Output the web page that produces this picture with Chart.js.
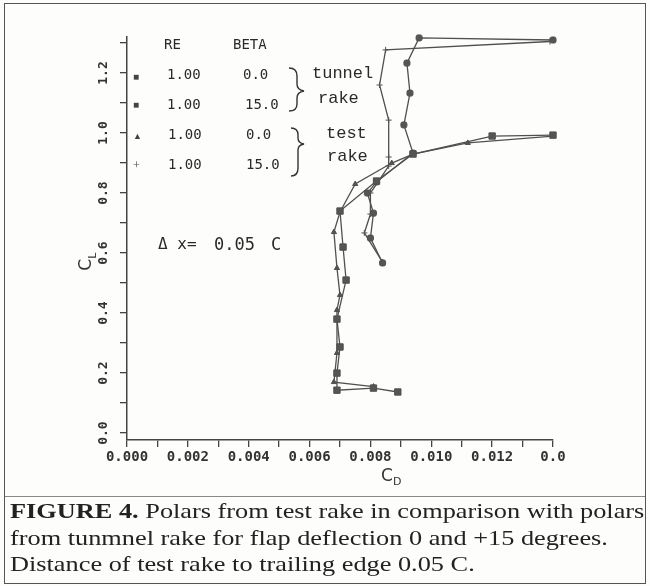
<!DOCTYPE html>
<html>
<head>
<meta charset="utf-8">
<script src="https://cdn.jsdelivr.net/npm/chart.js@4"></script>
<style>
  html, body { margin: 0; padding: 0; background: #fdfdfb; }
  #wrap { position: relative; width: 650px; height: 586px; overflow: hidden; }
  #chart { position: absolute; left: 0; top: 0; }
  .lbl { position: absolute; font-family: 'DejaVu Sans Mono', monospace; font-size: 14px; color: #2a2a2a; white-space: nowrap; line-height: 1; }
  .big { font-family: 'Liberation Mono', monospace; font-size: 17px; }
  .mk { position: absolute; color: #444; line-height: 1; font-size: 10px; }
  #frame { position: absolute; left: 4px; top: 3px; width: 640px; height: 579px; border: 1.5px solid #555; border-right-width: 1px; }
  #sep { position: absolute; left: 5px; top: 496px; width: 640px; height: 0; border-top: 1px solid #888; }
  .cap { position: absolute; left: 10px; font-family: 'Liberation Serif', serif; font-size: 21px; color: #222; white-space: nowrap; transform-origin: 0 0; }
  .axt { position: absolute; font-family: 'DejaVu Sans', sans-serif; font-size: 17px; color: #333; }
</style>
</head>
<body>
<div id="wrap">
  <canvas id="chart" width="650" height="586"></canvas>
  <div id="frame"></div>
  <div id="sep"></div>

  <div class="lbl" style="left:164px;top:37px;">RE</div>
  <div class="lbl" style="left:233px;top:37px;">BETA</div>

  <div class="mk" style="left:133px;top:72px;">&#9632;</div>
  <div class="lbl" style="left:167px;top:67px;">1.00</div>
  <div class="lbl" style="left:243px;top:67px;">0.0</div>

  <div class="mk" style="left:133px;top:100px;">&#9632;</div>
  <div class="lbl" style="left:167px;top:97px;">1.00</div>
  <div class="lbl" style="left:245px;top:97px;">15.0</div>

  <div class="mk" style="left:133px;top:132px;font-size:9px;">&#9650;</div>
  <div class="lbl" style="left:168px;top:127px;">1.00</div>
  <div class="lbl" style="left:246px;top:127px;">0.0</div>

  <div class="mk" style="left:133px;top:159px;font-size:12px;">+</div>
  <div class="lbl" style="left:168px;top:157px;">1.00</div>
  <div class="lbl" style="left:246px;top:157px;">15.0</div>

  <div class="lbl big" style="left:312px;top:65px;">tunnel</div>
  <div class="lbl big" style="left:318px;top:90px;">rake</div>
  <div class="lbl big" style="left:326px;top:125px;">test</div>
  <div class="lbl big" style="left:327px;top:148px;">rake</div>

  <svg style="position:absolute;left:0;top:0;" width="650" height="586">
    <path d="M289 68 Q297 68 297 76 L297 84 Q297 90 304 91 Q297 92 297 98 L297 104 Q297 111 289 111" fill="none" stroke="#333" stroke-width="1.4"/>
    <path d="M291 128 Q298 128 298 135 L298 138 Q298 143 304 144 Q298 145 298 150 L298 168 Q298 176 291 176" fill="none" stroke="#333" stroke-width="1.4"/>
  </svg>

  <div class="lbl" style="left:158px;top:236px;font-size:16px;">&#916; x=</div>
  <div class="lbl" style="left:214px;top:236px;font-size:17px;">0.05</div>
  <div class="lbl" style="left:271px;top:236px;font-size:17px;">C</div>

  <div class="axt" style="left:78px;top:250px;transform:rotate(-90deg);">C<sub style="font-size:11px;">L</sub></div>
  <div class="axt" style="left:381px;top:465px;">C<sub style="font-size:11px;">D</sub></div>

  <div class="cap" id="cap1" style="top:499px;"><b>FIGURE 4.</b> Polars from test rake in comparison with polars</div>
  <div class="cap" id="cap2" style="top:526px;">from tunmnel rake for flap deflection 0 and +15 degrees.</div>
  <div class="cap" id="cap3" style="top:552px;">Distance of test rake to trailing edge 0.05 C.</div>
</div>
<script>
// polars: drag coefficient CD, lift coefficient CL
var cdTunnel0 = [0.0089, 0.0081, 0.0069, 0.0069, 0.0070, 0.0069, 0.0072, 0.0071, 0.0070, 0.0082, 0.0094, 0.0120, 0.0140];
var clTunnel0 = [0.137, 0.150, 0.143, 0.20, 0.287, 0.38, 0.51, 0.62, 0.74, 0.84, 0.93, 0.99, 0.993];

var cdTest0 = [0.0081, 0.0068, 0.0069, 0.0069, 0.0070, 0.0069, 0.0068, 0.0070, 0.0075, 0.0087, 0.0094, 0.0112, 0.0140];
var clTest0 = [0.155, 0.17, 0.267, 0.41, 0.46, 0.55, 0.67, 0.737, 0.83, 0.90, 0.93, 0.967, 0.99];

var cdTunnel15 = [0.0084, 0.0080, 0.0081, 0.0079, 0.0082, 0.0094, 0.0091, 0.0093, 0.0092, 0.0096, 0.0140];
var clTunnel15 = [0.567, 0.65, 0.733, 0.80, 0.837, 0.933, 1.027, 1.133, 1.233, 1.317, 1.31];

var cdTest15 = [0.0084, 0.0078, 0.0080, 0.0080, 0.0086, 0.0086, 0.0086, 0.0083, 0.0085, 0.0139];
var clTest15 = [0.57, 0.667, 0.73, 0.80, 0.89, 0.92, 1.043, 1.16, 1.277, 1.305];

var xTicksMin = 0, xTicksMax = 0.014;
var yMin = -0.023, yMax = 1.32;

function toPoints(cd, cl) {
  var pts = [];
  for (var i = 0; i < cd.length; i++) pts.push({x: cd[i], y: cl[i]});
  return pts;
}

function makeSet(label, cd, cl, style, radius) {
  return {
    label: label,
    data: toPoints(cd, cl),
    showLine: true,
    borderColor: '#505050',
    backgroundColor: '#555',
    borderWidth: 1.3,
    pointStyle: style,
    pointRadius: radius,
    pointBorderColor: '#505050',
    pointBorderWidth: 1,
    tension: 0,
    clip: false
  };
}

var tickFont = {family: 'DejaVu Sans Mono', size: 14, weight: 'bold'};

new Chart(document.getElementById('chart'), {
  type: 'scatter',
  data: {
    datasets: [
      makeSet('tunnel rake 0.0', cdTunnel0, clTunnel0, 'rect', 4.5),
      makeSet('tunnel rake 15.0', cdTunnel15, clTunnel15, 'rectRounded', 3.5),
      makeSet('test rake 0.0', cdTest0, clTest0, 'triangle', 3),
      makeSet('test rake 15.0', cdTest15, clTest15, 'cross', 3)
    ]
  },
  options: {
    responsive: false,
    animation: false,
    devicePixelRatio: 1,
    layout: {padding: {left: 0, right: 97, top: 37, bottom: 86}},
    plugins: {legend: {display: false}, tooltip: {enabled: false}},
    scales: {
      x: {
        type: 'linear',
        min: xTicksMin,
        max: xTicksMax,
        afterFit: function(s) { s.height = 60; },
        grid: {drawOnChartArea: false, tickLength: 7, color: '#444', lineWidth: 1.3},
        border: {color: '#444', width: 1.5},
        ticks: {
          stepSize: 0.001,
          padding: 2,
          color: '#333',
          font: tickFont,
          maxRotation: 0,
          autoSkip: false,
          callback: function(v) {
            var k = Math.round(v * 1000);
            if (k % 2) return '';
            if (k == 14) return '0.0';
            return (k / 1000).toFixed(3);
          }
        }
      },
      y: {
        type: 'linear',
        min: yMin,
        max: yMax,
        afterFit: function(s) { s.width = 127; },
        grid: {drawOnChartArea: false, tickLength: 7, color: '#444', lineWidth: 1.3},
        border: {color: '#444', width: 1.5},
        ticks: {
          stepSize: 0.1,
          includeBounds: false,
          minRotation: 90,
          maxRotation: 90,
          crossAlign: 'center',
          padding: 5,
          color: '#333',
          font: {family: 'DejaVu Sans Mono', size: 13, weight: 'bold'},
          autoSkip: false,
          callback: function(v) {
            var k = Math.round(v * 10);
            if (k % 2) return '';
            return (k / 10).toFixed(1);
          }
        }
      }
    }
  }
});

// squeeze caption lines to the width they have in the figure
var capScale = 634 / document.getElementById('cap1').offsetWidth;
['cap1', 'cap2', 'cap3'].forEach(function(id) {
  document.getElementById(id).style.transform = 'scaleX(' + capScale + ')';
});
</script>
</body>
</html>
